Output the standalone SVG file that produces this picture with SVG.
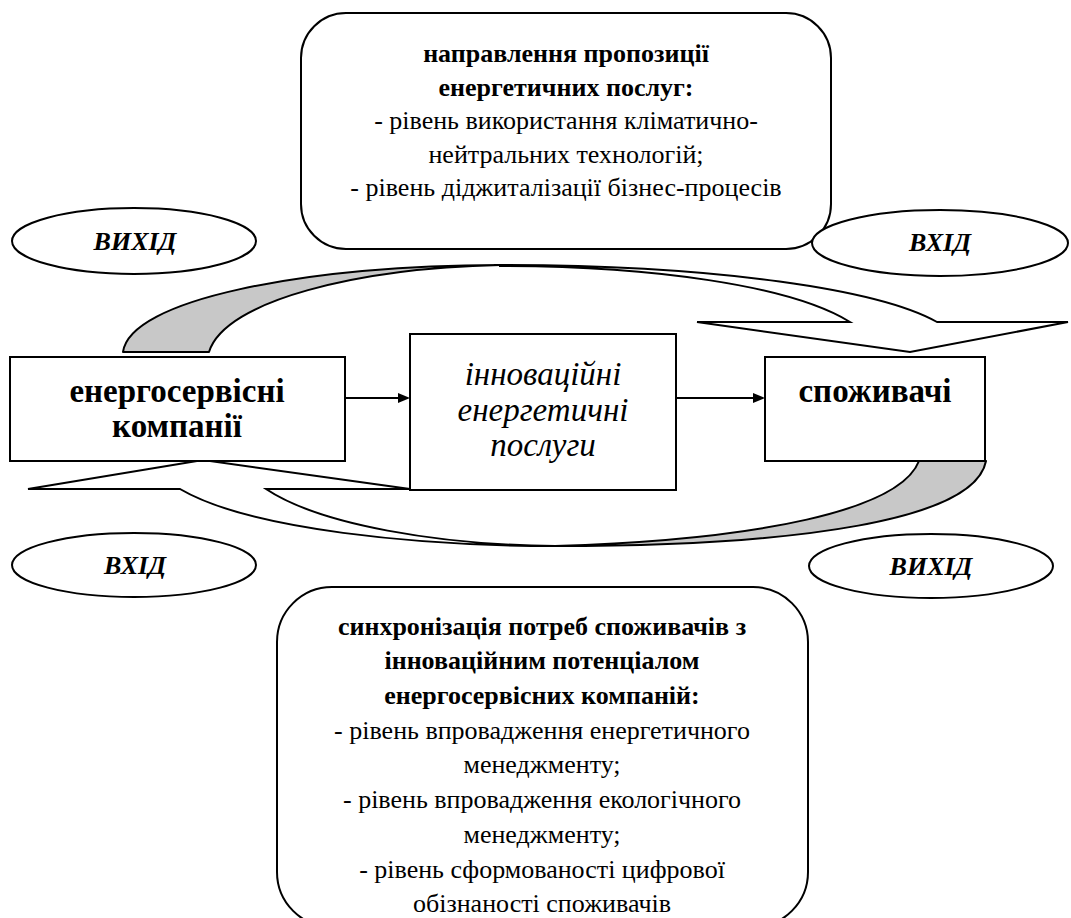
<svg xmlns="http://www.w3.org/2000/svg" width="1071" height="918" viewBox="0 0 1071 918">
<rect width="1071" height="918" fill="#fff"/>
<g id="connectors" stroke="#000" stroke-width="2">
<path fill="#c8c8c8" stroke-linejoin="round" d="M123,352 C130,300 300,266 500,265 C360,268 225,300 209,352 Z"/>
<path fill="#fff" d="M500,265 C720,265 880,290 937,322 L1068,322 L910,352 L697,322 L850,322 C790,285 650,266 500,266 Z"/>
<path fill="#fff" d="M555,546 C420,546 250,530 180,489 L28,489 L203,460 L410,489 L266,489 C320,525 440,545 555,546 Z"/>
<path fill="#c8c8c8" stroke-linejoin="round" d="M555,546 C800,546 975,520 986,461 L919,461 C900,510 760,540 555,546 Z"/>
<line x1="345" y1="398" x2="400" y2="398"/>
<polygon points="398,393 410,398 398,403" fill="#000" stroke="none"/>
<line x1="676" y1="398" x2="755" y2="398"/>
<polygon points="753,393 765,398 753,403" fill="#000" stroke="none"/>
</g>
<g id="top-box">
<rect fill="#fff" stroke="#000" stroke-width="2" x="301" y="13" width="530" height="236" rx="45"/>
<text x="566" y="62" font-size="26" font-family="Liberation Serif" font-weight="bold" text-anchor="middle">направлення пропозиції</text>
<text x="566" y="96" font-size="26" font-family="Liberation Serif" font-weight="bold" text-anchor="middle">енергетичних послуг:</text>
<text x="566" y="129" font-size="26" font-family="Liberation Serif" text-anchor="middle">- рівень використання кліматично-</text>
<text x="566" y="163" font-size="26" font-family="Liberation Serif" text-anchor="middle">нейтральних технологій;</text>
<text x="566" y="196" font-size="26" font-family="Liberation Serif" text-anchor="middle">- рівень діджиталізації бізнес-процесів</text>
</g>
<g id="out-top-left">
<ellipse fill="#fff" stroke="#000" stroke-width="2" cx="134" cy="241" rx="122" ry="33"/>
<text x="135" y="250" font-size="26" font-family="Liberation Serif" font-weight="bold" font-style="italic" text-anchor="middle">ВИХІД</text>
</g>
<g id="in-top-right">
<ellipse fill="#fff" stroke="#000" stroke-width="2" cx="940" cy="243" rx="128" ry="33"/>
<text x="940" y="251" font-size="26" font-family="Liberation Serif" font-weight="bold" font-style="italic" text-anchor="middle">ВХІД</text>
</g>
<g id="companies">
<rect fill="#fff" stroke="#000" stroke-width="2" x="10" y="357" width="335" height="104"/>
<text x="177" y="402" font-size="33" font-family="Liberation Serif" font-weight="bold" text-anchor="middle">енергосервісні</text>
<text x="177" y="437" font-size="33" font-family="Liberation Serif" font-weight="bold" text-anchor="middle">компанії</text>
</g>
<g id="services">
<rect fill="#fff" stroke="#000" stroke-width="2" x="410" y="334" width="266" height="156"/>
<text x="543" y="385" font-size="33" font-family="Liberation Serif" font-style="italic" text-anchor="middle">інноваційні</text>
<text x="543" y="421" font-size="33" font-family="Liberation Serif" font-style="italic" text-anchor="middle">енергетичні</text>
<text x="543" y="456" font-size="33" font-family="Liberation Serif" font-style="italic" text-anchor="middle">послуги</text>
</g>
<g id="consumers">
<rect fill="#fff" stroke="#000" stroke-width="2" x="765" y="357" width="220" height="104"/>
<text x="875" y="402" font-size="33" font-family="Liberation Serif" font-weight="bold" text-anchor="middle">споживачі</text>
</g>
<g id="in-bottom-left">
<ellipse fill="#fff" stroke="#000" stroke-width="2" cx="134" cy="565" rx="122" ry="32"/>
<text x="135" y="574" font-size="26" font-family="Liberation Serif" font-weight="bold" font-style="italic" text-anchor="middle">ВХІД</text>
</g>
<g id="out-bottom-right">
<ellipse fill="#fff" stroke="#000" stroke-width="2" cx="931" cy="566" rx="122" ry="32"/>
<text x="931" y="575" font-size="26" font-family="Liberation Serif" font-weight="bold" font-style="italic" text-anchor="middle">ВИХІД</text>
</g>
<g id="bottom-box">
<rect fill="#fff" stroke="#000" stroke-width="2" x="277" y="587" width="531" height="340" rx="55"/>
<text x="542" y="635" font-size="26" font-family="Liberation Serif" font-weight="bold" text-anchor="middle">синхронізація потреб споживачів з</text>
<text x="542" y="669" font-size="26" font-family="Liberation Serif" font-weight="bold" text-anchor="middle">інноваційним потенціалом</text>
<text x="542" y="704" font-size="26" font-family="Liberation Serif" font-weight="bold" text-anchor="middle">енергосервісних компаній:</text>
<text x="542" y="739" font-size="26" font-family="Liberation Serif" text-anchor="middle">- рівень впровадження енергетичного</text>
<text x="542" y="773" font-size="26" font-family="Liberation Serif" text-anchor="middle">менеджменту;</text>
<text x="542" y="808" font-size="26" font-family="Liberation Serif" text-anchor="middle">- рівень впровадження екологічного</text>
<text x="542" y="843" font-size="26" font-family="Liberation Serif" text-anchor="middle">менеджменту;</text>
<text x="542" y="878" font-size="26" font-family="Liberation Serif" text-anchor="middle">- рівень сформованості цифрової</text>
<text x="542" y="912" font-size="26" font-family="Liberation Serif" text-anchor="middle">обізнаності споживачів</text>
</g>
</svg>
